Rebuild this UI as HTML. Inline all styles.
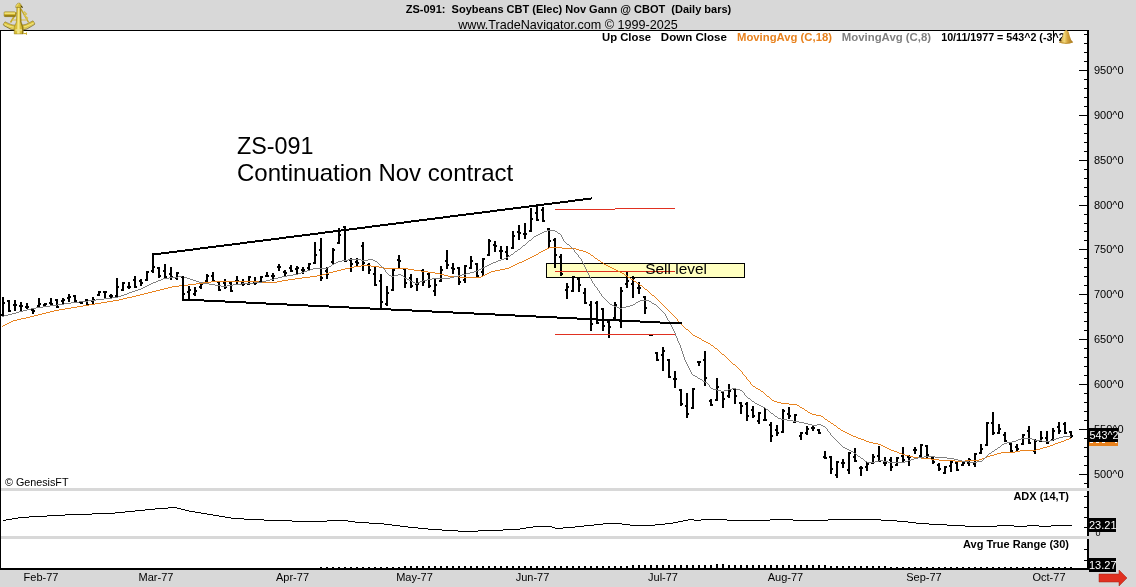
<!DOCTYPE html>
<html><head><meta charset="utf-8"><title>ZS-091</title>
<style>
html,body{margin:0;padding:0;background:#d8d8d8;}
body{width:1136px;height:587px;overflow:hidden;position:relative;font-family:"Liberation Sans",Arial,sans-serif;}
svg{position:absolute;left:0;top:0;display:block}
text{font-family:"Liberation Sans",Arial,sans-serif;}
.b{font-weight:bold}
</style></head><body>
<svg width="1136" height="587" viewBox="0 0 1136 587">
<rect x="0" y="0" width="1136" height="587" fill="#d8d8d8"/>

<text x="568.5" y="13" font-size="11" class="b" text-anchor="middle" xml:space="preserve">ZS-091:  Soybeans CBT (Elec) Nov Gann @ CBOT  (Daily bars)</text>
<text x="568" y="29" font-size="12.6" text-anchor="middle">www.TradeNavigator.com © 1999-2025</text>
<rect x="0" y="30" width="1089" height="540" fill="#000"/>
<rect x="1" y="31" width="1086" height="537" fill="#fff"/>
<rect x="546.5" y="263.5" width="198" height="14" fill="#ffffc0" stroke="#000" stroke-width="1" shape-rendering="crispEdges"/>
<g shape-rendering="crispEdges" fill="#000">
<rect x="1084" y="483" width="4" height="1"/>
<rect x="1079" y="474" width="9" height="1"/>
<rect x="1084" y="465" width="4" height="1"/>
<rect x="1084" y="456" width="4" height="1"/>
<rect x="1084" y="447" width="4" height="1"/>
<rect x="1084" y="438" width="4" height="1"/>
<rect x="1079" y="429" width="9" height="1"/>
<rect x="1084" y="420" width="4" height="1"/>
<rect x="1084" y="411" width="4" height="1"/>
<rect x="1084" y="402" width="4" height="1"/>
<rect x="1084" y="393" width="4" height="1"/>
<rect x="1079" y="384" width="9" height="1"/>
<rect x="1084" y="375" width="4" height="1"/>
<rect x="1084" y="366" width="4" height="1"/>
<rect x="1084" y="357" width="4" height="1"/>
<rect x="1084" y="348" width="4" height="1"/>
<rect x="1079" y="339" width="9" height="1"/>
<rect x="1084" y="330" width="4" height="1"/>
<rect x="1084" y="321" width="4" height="1"/>
<rect x="1084" y="312" width="4" height="1"/>
<rect x="1084" y="303" width="4" height="1"/>
<rect x="1079" y="294" width="9" height="1"/>
<rect x="1084" y="285" width="4" height="1"/>
<rect x="1084" y="276" width="4" height="1"/>
<rect x="1084" y="267" width="4" height="1"/>
<rect x="1084" y="258" width="4" height="1"/>
<rect x="1079" y="249" width="9" height="1"/>
<rect x="1084" y="240" width="4" height="1"/>
<rect x="1084" y="231" width="4" height="1"/>
<rect x="1084" y="223" width="4" height="1"/>
<rect x="1084" y="214" width="4" height="1"/>
<rect x="1079" y="205" width="9" height="1"/>
<rect x="1084" y="196" width="4" height="1"/>
<rect x="1084" y="187" width="4" height="1"/>
<rect x="1084" y="178" width="4" height="1"/>
<rect x="1084" y="169" width="4" height="1"/>
<rect x="1079" y="160" width="9" height="1"/>
<rect x="1084" y="151" width="4" height="1"/>
<rect x="1084" y="142" width="4" height="1"/>
<rect x="1084" y="133" width="4" height="1"/>
<rect x="1084" y="124" width="4" height="1"/>
<rect x="1079" y="115" width="9" height="1"/>
<rect x="1084" y="106" width="4" height="1"/>
<rect x="1084" y="97" width="4" height="1"/>
<rect x="1084" y="88" width="4" height="1"/>
<rect x="1084" y="79" width="4" height="1"/>
<rect x="1079" y="70" width="9" height="1"/>
<rect x="1084" y="61" width="4" height="1"/>
<rect x="1084" y="52" width="4" height="1"/>
<rect x="1084" y="43" width="4" height="1"/>
<rect x="1084" y="34" width="4" height="1"/>
<rect x="1084" y="496" width="4" height="1"/>
<rect x="1084" y="507" width="4" height="1"/>
<rect x="1084" y="517" width="4" height="1"/>
<rect x="1084" y="527" width="4" height="1"/>
<rect x="1084" y="549" width="4" height="1"/>
<rect x="1084" y="560" width="4" height="1"/>
<rect x="320" y="567" width="2" height="1"/>
<rect x="326" y="567" width="2" height="1"/>
<rect x="332" y="567" width="2" height="1"/>
<rect x="338" y="567" width="2" height="1"/>
<rect x="344" y="567" width="2" height="1"/>
<rect x="350" y="567" width="2" height="1"/>
<rect x="356" y="567" width="2" height="1"/>
<rect x="362" y="567" width="2" height="1"/>
<rect x="368" y="567" width="2" height="1"/>
<rect x="374" y="567" width="2" height="1"/>
<rect x="380" y="567" width="2" height="1"/>
<rect x="386" y="567" width="2" height="1"/>
<rect x="392" y="567" width="2" height="1"/>
<rect x="398" y="567" width="2" height="1"/>
<rect x="404" y="566" width="2" height="2"/>
<rect x="410" y="566" width="2" height="2"/>
<rect x="416" y="566" width="2" height="2"/>
<rect x="422" y="566" width="2" height="2"/>
<rect x="428" y="566" width="2" height="2"/>
<rect x="434" y="566" width="2" height="2"/>
<rect x="440" y="566" width="2" height="2"/>
<rect x="446" y="566" width="2" height="2"/>
<rect x="452" y="566" width="2" height="2"/>
<rect x="458" y="566" width="2" height="2"/>
<rect x="464" y="566" width="2" height="2"/>
<rect x="470" y="566" width="2" height="2"/>
<rect x="476" y="566" width="2" height="2"/>
<rect x="482" y="566" width="2" height="2"/>
<rect x="488" y="566" width="2" height="2"/>
<rect x="494" y="566" width="2" height="2"/>
<rect x="500" y="566" width="2" height="2"/>
<rect x="506" y="566" width="2" height="2"/>
<rect x="512" y="566" width="2" height="2"/>
<rect x="518" y="566" width="2" height="2"/>
<rect x="524" y="566" width="2" height="2"/>
<rect x="530" y="566" width="2" height="2"/>
<rect x="536" y="566" width="2" height="2"/>
<rect x="542" y="566" width="2" height="2"/>
<rect x="548" y="566" width="2" height="2"/>
<rect x="554" y="566" width="2" height="2"/>
<rect x="560" y="566" width="2" height="2"/>
<rect x="566" y="566" width="2" height="2"/>
<rect x="572" y="566" width="2" height="2"/>
<rect x="578" y="566" width="2" height="2"/>
<rect x="584" y="566" width="2" height="2"/>
<rect x="590" y="566" width="2" height="2"/>
<rect x="596" y="566" width="2" height="2"/>
<rect x="602" y="566" width="2" height="2"/>
<rect x="608" y="566" width="2" height="2"/>
<rect x="614" y="566" width="2" height="2"/>
<rect x="620" y="566" width="2" height="2"/>
<rect x="626" y="566" width="2" height="2"/>
<rect x="632" y="565" width="2" height="3"/>
<rect x="638" y="565" width="2" height="3"/>
<rect x="644" y="565" width="2" height="3"/>
<rect x="650" y="565" width="2" height="3"/>
<rect x="656" y="565" width="2" height="3"/>
<rect x="662" y="565" width="2" height="3"/>
<rect x="668" y="565" width="2" height="3"/>
<rect x="674" y="565" width="2" height="3"/>
<rect x="680" y="565" width="2" height="3"/>
<rect x="686" y="565" width="2" height="3"/>
<rect x="692" y="565" width="2" height="3"/>
<rect x="698" y="565" width="2" height="3"/>
<rect x="704" y="565" width="2" height="3"/>
<rect x="710" y="565" width="2" height="3"/>
<rect x="716" y="564" width="2" height="4"/>
<rect x="722" y="564" width="2" height="4"/>
<rect x="728" y="565" width="2" height="3"/>
<rect x="734" y="565" width="2" height="3"/>
<rect x="740" y="565" width="2" height="3"/>
<rect x="746" y="565" width="2" height="3"/>
<rect x="752" y="565" width="2" height="3"/>
<rect x="758" y="565" width="2" height="3"/>
<rect x="764" y="565" width="2" height="3"/>
<rect x="770" y="565" width="2" height="3"/>
<rect x="776" y="565" width="2" height="3"/>
<rect x="782" y="565" width="2" height="3"/>
<rect x="788" y="565" width="2" height="3"/>
<rect x="794" y="565" width="2" height="3"/>
<rect x="800" y="565" width="2" height="3"/>
<rect x="806" y="565" width="2" height="3"/>
<rect x="812" y="565" width="2" height="3"/>
<rect x="818" y="565" width="2" height="3"/>
<rect x="824" y="565" width="2" height="3"/>
<rect x="830" y="566" width="2" height="2"/>
<rect x="836" y="566" width="2" height="2"/>
<rect x="842" y="566" width="2" height="2"/>
<rect x="848" y="566" width="2" height="2"/>
<rect x="854" y="566" width="2" height="2"/>
<rect x="860" y="566" width="2" height="2"/>
<rect x="866" y="566" width="2" height="2"/>
<rect x="872" y="566" width="2" height="2"/>
<rect x="878" y="566" width="2" height="2"/>
<rect x="884" y="566" width="2" height="2"/>
<rect x="890" y="567" width="2" height="1"/>
<rect x="896" y="567" width="2" height="1"/>
<rect x="902" y="567" width="2" height="1"/>
<rect x="908" y="567" width="2" height="1"/>
<rect x="914" y="567" width="2" height="1"/>
<rect x="920" y="567" width="2" height="1"/>
<rect x="926" y="567" width="2" height="1"/>
<rect x="932" y="567" width="2" height="1"/>
<rect x="938" y="567" width="2" height="1"/>
<rect x="944" y="567" width="2" height="1"/>
<rect x="950" y="567" width="2" height="1"/>
<rect x="956" y="567" width="2" height="1"/>
<rect x="962" y="567" width="2" height="1"/>
<rect x="968" y="567" width="2" height="1"/>
<rect x="974" y="567" width="2" height="1"/>
<rect x="980" y="567" width="2" height="1"/>
<rect x="986" y="567" width="2" height="1"/>
<rect x="992" y="567" width="2" height="1"/>
<rect x="998" y="567" width="2" height="1"/>
<rect x="1004" y="567" width="2" height="1"/>
<rect x="1010" y="567" width="2" height="1"/>
<rect x="1016" y="567" width="2" height="1"/>
<rect x="1022" y="567" width="2" height="1"/>
<rect x="1028" y="567" width="2" height="1"/>
<rect x="1034" y="567" width="2" height="1"/>
<rect x="1040" y="567" width="2" height="1"/>
<rect x="1046" y="567" width="2" height="1"/>
<rect x="1052" y="567" width="2" height="1"/>
<rect x="1058" y="567" width="2" height="1"/>
<rect x="1064" y="567" width="2" height="1"/>
<rect x="1070" y="567" width="2" height="1"/>
<rect x="2" y="297" width="2" height="19"/>
<rect x="1" y="314" width="1" height="2"/>
<rect x="4" y="302" width="1" height="2"/>
<rect x="8" y="300" width="2" height="12"/>
<rect x="7" y="300" width="1" height="2"/>
<rect x="10" y="310" width="1" height="2"/>
<rect x="14" y="300" width="2" height="11"/>
<rect x="13" y="304" width="1" height="2"/>
<rect x="16" y="304" width="1" height="2"/>
<rect x="20" y="302" width="2" height="9"/>
<rect x="19" y="305" width="1" height="2"/>
<rect x="22" y="305" width="1" height="2"/>
<rect x="26" y="303" width="2" height="6"/>
<rect x="25" y="306" width="1" height="2"/>
<rect x="28" y="306" width="1" height="2"/>
<rect x="32" y="309" width="2" height="5"/>
<rect x="31" y="309" width="1" height="2"/>
<rect x="34" y="310" width="1" height="2"/>
<rect x="38" y="298" width="2" height="9"/>
<rect x="37" y="305" width="1" height="2"/>
<rect x="40" y="303" width="1" height="2"/>
<rect x="44" y="303" width="2" height="3"/>
<rect x="43" y="304" width="1" height="2"/>
<rect x="46" y="303" width="1" height="2"/>
<rect x="50" y="298" width="2" height="8"/>
<rect x="49" y="302" width="1" height="2"/>
<rect x="52" y="303" width="1" height="2"/>
<rect x="56" y="299" width="2" height="9"/>
<rect x="55" y="299" width="1" height="2"/>
<rect x="58" y="306" width="1" height="2"/>
<rect x="62" y="298" width="2" height="6"/>
<rect x="61" y="300" width="1" height="2"/>
<rect x="64" y="299" width="1" height="2"/>
<rect x="68" y="294" width="2" height="8"/>
<rect x="67" y="297" width="1" height="2"/>
<rect x="70" y="296" width="1" height="2"/>
<rect x="74" y="295" width="2" height="7"/>
<rect x="73" y="295" width="1" height="2"/>
<rect x="76" y="300" width="1" height="2"/>
<rect x="80" y="301" width="2" height="3"/>
<rect x="79" y="301" width="1" height="2"/>
<rect x="82" y="302" width="1" height="2"/>
<rect x="86" y="299" width="2" height="7"/>
<rect x="85" y="299" width="1" height="2"/>
<rect x="88" y="304" width="1" height="2"/>
<rect x="92" y="297" width="2" height="7"/>
<rect x="91" y="300" width="1" height="2"/>
<rect x="94" y="299" width="1" height="2"/>
<rect x="98" y="291" width="2" height="5"/>
<rect x="97" y="294" width="1" height="2"/>
<rect x="100" y="291" width="1" height="2"/>
<rect x="104" y="291" width="2" height="7"/>
<rect x="103" y="291" width="1" height="2"/>
<rect x="106" y="291" width="1" height="2"/>
<rect x="110" y="294" width="2" height="4"/>
<rect x="109" y="295" width="1" height="2"/>
<rect x="112" y="295" width="1" height="2"/>
<rect x="116" y="278" width="2" height="19"/>
<rect x="115" y="295" width="1" height="2"/>
<rect x="118" y="286" width="1" height="2"/>
<rect x="122" y="282" width="2" height="9"/>
<rect x="121" y="289" width="1" height="2"/>
<rect x="124" y="282" width="1" height="2"/>
<rect x="128" y="282" width="2" height="7"/>
<rect x="127" y="286" width="1" height="2"/>
<rect x="130" y="286" width="1" height="2"/>
<rect x="134" y="276" width="2" height="12"/>
<rect x="133" y="279" width="1" height="2"/>
<rect x="136" y="286" width="1" height="2"/>
<rect x="140" y="279" width="2" height="7"/>
<rect x="139" y="280" width="1" height="2"/>
<rect x="142" y="282" width="1" height="2"/>
<rect x="146" y="271" width="2" height="10"/>
<rect x="145" y="279" width="1" height="2"/>
<rect x="148" y="271" width="1" height="2"/>
<rect x="152" y="254" width="2" height="18"/>
<rect x="151" y="270" width="1" height="2"/>
<rect x="154" y="266" width="1" height="2"/>
<rect x="158" y="267" width="2" height="11"/>
<rect x="157" y="267" width="1" height="2"/>
<rect x="160" y="275" width="1" height="2"/>
<rect x="164" y="264" width="2" height="14"/>
<rect x="163" y="270" width="1" height="2"/>
<rect x="166" y="276" width="1" height="2"/>
<rect x="170" y="267" width="2" height="13"/>
<rect x="169" y="273" width="1" height="2"/>
<rect x="172" y="276" width="1" height="2"/>
<rect x="176" y="272" width="2" height="8"/>
<rect x="175" y="277" width="1" height="2"/>
<rect x="178" y="272" width="1" height="2"/>
<rect x="182" y="276" width="2" height="24"/>
<rect x="181" y="276" width="1" height="2"/>
<rect x="184" y="293" width="1" height="2"/>
<rect x="188" y="286" width="2" height="13"/>
<rect x="187" y="291" width="1" height="2"/>
<rect x="190" y="289" width="1" height="2"/>
<rect x="194" y="287" width="2" height="9"/>
<rect x="193" y="293" width="1" height="2"/>
<rect x="196" y="290" width="1" height="2"/>
<rect x="200" y="282" width="2" height="7"/>
<rect x="199" y="286" width="1" height="2"/>
<rect x="202" y="283" width="1" height="2"/>
<rect x="206" y="274" width="2" height="8"/>
<rect x="205" y="280" width="1" height="2"/>
<rect x="208" y="275" width="1" height="2"/>
<rect x="212" y="272" width="2" height="10"/>
<rect x="211" y="275" width="1" height="2"/>
<rect x="214" y="280" width="1" height="2"/>
<rect x="218" y="281" width="2" height="10"/>
<rect x="217" y="281" width="1" height="2"/>
<rect x="220" y="289" width="1" height="2"/>
<rect x="224" y="279" width="2" height="10"/>
<rect x="223" y="282" width="1" height="2"/>
<rect x="226" y="286" width="1" height="2"/>
<rect x="230" y="282" width="2" height="10"/>
<rect x="229" y="282" width="1" height="2"/>
<rect x="232" y="290" width="1" height="2"/>
<rect x="236" y="276" width="2" height="9"/>
<rect x="235" y="280" width="1" height="2"/>
<rect x="238" y="280" width="1" height="2"/>
<rect x="242" y="279" width="2" height="7"/>
<rect x="241" y="282" width="1" height="2"/>
<rect x="244" y="283" width="1" height="2"/>
<rect x="248" y="276" width="2" height="9"/>
<rect x="247" y="283" width="1" height="2"/>
<rect x="250" y="276" width="1" height="2"/>
<rect x="254" y="277" width="2" height="8"/>
<rect x="253" y="281" width="1" height="2"/>
<rect x="256" y="282" width="1" height="2"/>
<rect x="260" y="276" width="2" height="7"/>
<rect x="259" y="281" width="1" height="2"/>
<rect x="262" y="276" width="1" height="2"/>
<rect x="266" y="272" width="2" height="5"/>
<rect x="265" y="275" width="1" height="2"/>
<rect x="268" y="275" width="1" height="2"/>
<rect x="272" y="273" width="2" height="8"/>
<rect x="271" y="275" width="1" height="2"/>
<rect x="274" y="275" width="1" height="2"/>
<rect x="278" y="264" width="2" height="7"/>
<rect x="277" y="266" width="1" height="2"/>
<rect x="280" y="266" width="1" height="2"/>
<rect x="284" y="270" width="2" height="6"/>
<rect x="283" y="271" width="1" height="2"/>
<rect x="286" y="272" width="1" height="2"/>
<rect x="290" y="265" width="2" height="7"/>
<rect x="289" y="267" width="1" height="2"/>
<rect x="292" y="270" width="1" height="2"/>
<rect x="296" y="266" width="2" height="8"/>
<rect x="295" y="268" width="1" height="2"/>
<rect x="298" y="267" width="1" height="2"/>
<rect x="302" y="267" width="2" height="7"/>
<rect x="301" y="269" width="1" height="2"/>
<rect x="304" y="269" width="1" height="2"/>
<rect x="308" y="263" width="2" height="8"/>
<rect x="307" y="267" width="1" height="2"/>
<rect x="310" y="263" width="1" height="2"/>
<rect x="314" y="242" width="2" height="22"/>
<rect x="313" y="262" width="1" height="2"/>
<rect x="316" y="254" width="1" height="2"/>
<rect x="320" y="238" width="2" height="43"/>
<rect x="319" y="249" width="1" height="2"/>
<rect x="322" y="277" width="1" height="2"/>
<rect x="326" y="267" width="2" height="12"/>
<rect x="325" y="270" width="1" height="2"/>
<rect x="328" y="273" width="1" height="2"/>
<rect x="332" y="248" width="2" height="16"/>
<rect x="331" y="261" width="1" height="2"/>
<rect x="334" y="249" width="1" height="2"/>
<rect x="338" y="228" width="2" height="16"/>
<rect x="337" y="242" width="1" height="2"/>
<rect x="340" y="234" width="1" height="2"/>
<rect x="344" y="226" width="2" height="36"/>
<rect x="343" y="226" width="1" height="2"/>
<rect x="346" y="260" width="1" height="2"/>
<rect x="350" y="258" width="2" height="14"/>
<rect x="349" y="259" width="1" height="2"/>
<rect x="352" y="263" width="1" height="2"/>
<rect x="356" y="258" width="2" height="9"/>
<rect x="355" y="261" width="1" height="2"/>
<rect x="358" y="262" width="1" height="2"/>
<rect x="362" y="242" width="2" height="29"/>
<rect x="361" y="245" width="1" height="2"/>
<rect x="364" y="262" width="1" height="2"/>
<rect x="368" y="263" width="2" height="11"/>
<rect x="367" y="264" width="1" height="2"/>
<rect x="370" y="269" width="1" height="2"/>
<rect x="374" y="267" width="2" height="19"/>
<rect x="373" y="273" width="1" height="2"/>
<rect x="376" y="284" width="1" height="2"/>
<rect x="380" y="274" width="2" height="34"/>
<rect x="379" y="280" width="1" height="2"/>
<rect x="382" y="301" width="1" height="2"/>
<rect x="386" y="286" width="2" height="20"/>
<rect x="385" y="303" width="1" height="2"/>
<rect x="388" y="292" width="1" height="2"/>
<rect x="392" y="269" width="2" height="22"/>
<rect x="391" y="289" width="1" height="2"/>
<rect x="394" y="269" width="1" height="2"/>
<rect x="398" y="255" width="2" height="13"/>
<rect x="397" y="259" width="1" height="2"/>
<rect x="400" y="260" width="1" height="2"/>
<rect x="404" y="268" width="2" height="20"/>
<rect x="403" y="268" width="1" height="2"/>
<rect x="406" y="282" width="1" height="2"/>
<rect x="410" y="274" width="2" height="14"/>
<rect x="409" y="277" width="1" height="2"/>
<rect x="412" y="285" width="1" height="2"/>
<rect x="416" y="278" width="2" height="13"/>
<rect x="415" y="283" width="1" height="2"/>
<rect x="418" y="283" width="1" height="2"/>
<rect x="422" y="269" width="2" height="17"/>
<rect x="421" y="270" width="1" height="2"/>
<rect x="424" y="281" width="1" height="2"/>
<rect x="428" y="272" width="2" height="16"/>
<rect x="427" y="273" width="1" height="2"/>
<rect x="430" y="285" width="1" height="2"/>
<rect x="434" y="278" width="2" height="18"/>
<rect x="433" y="290" width="1" height="2"/>
<rect x="436" y="284" width="1" height="2"/>
<rect x="440" y="266" width="2" height="16"/>
<rect x="439" y="280" width="1" height="2"/>
<rect x="442" y="269" width="1" height="2"/>
<rect x="446" y="250" width="2" height="19"/>
<rect x="445" y="260" width="1" height="2"/>
<rect x="448" y="264" width="1" height="2"/>
<rect x="452" y="263" width="2" height="11"/>
<rect x="451" y="267" width="1" height="2"/>
<rect x="454" y="268" width="1" height="2"/>
<rect x="458" y="267" width="2" height="18"/>
<rect x="457" y="267" width="1" height="2"/>
<rect x="460" y="281" width="1" height="2"/>
<rect x="464" y="265" width="2" height="18"/>
<rect x="463" y="279" width="1" height="2"/>
<rect x="466" y="265" width="1" height="2"/>
<rect x="470" y="256" width="2" height="13"/>
<rect x="469" y="267" width="1" height="2"/>
<rect x="472" y="260" width="1" height="2"/>
<rect x="476" y="263" width="2" height="14"/>
<rect x="475" y="263" width="1" height="2"/>
<rect x="478" y="275" width="1" height="2"/>
<rect x="482" y="258" width="2" height="18"/>
<rect x="481" y="271" width="1" height="2"/>
<rect x="484" y="258" width="1" height="2"/>
<rect x="488" y="239" width="2" height="17"/>
<rect x="487" y="254" width="1" height="2"/>
<rect x="490" y="240" width="1" height="2"/>
<rect x="494" y="241" width="2" height="11"/>
<rect x="493" y="244" width="1" height="2"/>
<rect x="496" y="245" width="1" height="2"/>
<rect x="500" y="246" width="2" height="13"/>
<rect x="499" y="250" width="1" height="2"/>
<rect x="502" y="250" width="1" height="2"/>
<rect x="506" y="246" width="2" height="14"/>
<rect x="505" y="251" width="1" height="2"/>
<rect x="508" y="255" width="1" height="2"/>
<rect x="512" y="231" width="2" height="18"/>
<rect x="511" y="247" width="1" height="2"/>
<rect x="514" y="235" width="1" height="2"/>
<rect x="518" y="225" width="2" height="15"/>
<rect x="517" y="231" width="1" height="2"/>
<rect x="520" y="232" width="1" height="2"/>
<rect x="524" y="223" width="2" height="16"/>
<rect x="523" y="233" width="1" height="2"/>
<rect x="526" y="233" width="1" height="2"/>
<rect x="530" y="208" width="2" height="24"/>
<rect x="529" y="230" width="1" height="2"/>
<rect x="532" y="218" width="1" height="2"/>
<rect x="536" y="206" width="2" height="15"/>
<rect x="535" y="212" width="1" height="2"/>
<rect x="538" y="219" width="1" height="2"/>
<rect x="542" y="207" width="2" height="15"/>
<rect x="541" y="209" width="1" height="2"/>
<rect x="544" y="220" width="1" height="2"/>
<rect x="548" y="228" width="2" height="20"/>
<rect x="547" y="228" width="1" height="2"/>
<rect x="550" y="240" width="1" height="2"/>
<rect x="554" y="238" width="2" height="30"/>
<rect x="553" y="239" width="1" height="2"/>
<rect x="556" y="254" width="1" height="2"/>
<rect x="560" y="254" width="2" height="22"/>
<rect x="559" y="256" width="1" height="2"/>
<rect x="562" y="273" width="1" height="2"/>
<rect x="566" y="283" width="2" height="16"/>
<rect x="565" y="289" width="1" height="2"/>
<rect x="568" y="286" width="1" height="2"/>
<rect x="572" y="276" width="2" height="16"/>
<rect x="571" y="290" width="1" height="2"/>
<rect x="574" y="276" width="1" height="2"/>
<rect x="578" y="278" width="2" height="14"/>
<rect x="577" y="278" width="1" height="2"/>
<rect x="580" y="284" width="1" height="2"/>
<rect x="584" y="288" width="2" height="16"/>
<rect x="583" y="292" width="1" height="2"/>
<rect x="586" y="302" width="1" height="2"/>
<rect x="590" y="301" width="2" height="30"/>
<rect x="589" y="304" width="1" height="2"/>
<rect x="592" y="323" width="1" height="2"/>
<rect x="596" y="301" width="2" height="23"/>
<rect x="595" y="302" width="1" height="2"/>
<rect x="598" y="322" width="1" height="2"/>
<rect x="602" y="308" width="2" height="23"/>
<rect x="601" y="308" width="1" height="2"/>
<rect x="604" y="325" width="1" height="2"/>
<rect x="608" y="321" width="2" height="17"/>
<rect x="607" y="321" width="1" height="2"/>
<rect x="610" y="326" width="1" height="2"/>
<rect x="614" y="302" width="2" height="17"/>
<rect x="613" y="317" width="1" height="2"/>
<rect x="616" y="304" width="1" height="2"/>
<rect x="620" y="287" width="2" height="41"/>
<rect x="619" y="319" width="1" height="2"/>
<rect x="622" y="290" width="1" height="2"/>
<rect x="626" y="272" width="2" height="16"/>
<rect x="625" y="283" width="1" height="2"/>
<rect x="628" y="280" width="1" height="2"/>
<rect x="632" y="276" width="2" height="22"/>
<rect x="631" y="283" width="1" height="2"/>
<rect x="634" y="277" width="1" height="2"/>
<rect x="638" y="282" width="2" height="12"/>
<rect x="637" y="287" width="1" height="2"/>
<rect x="640" y="287" width="1" height="2"/>
<rect x="644" y="296" width="2" height="18"/>
<rect x="643" y="296" width="1" height="2"/>
<rect x="646" y="307" width="1" height="2"/>
<rect x="656" y="352" width="2" height="9"/>
<rect x="655" y="352" width="1" height="2"/>
<rect x="658" y="359" width="1" height="2"/>
<rect x="662" y="347" width="2" height="24"/>
<rect x="661" y="354" width="1" height="2"/>
<rect x="664" y="350" width="1" height="2"/>
<rect x="668" y="359" width="2" height="19"/>
<rect x="667" y="359" width="1" height="2"/>
<rect x="670" y="376" width="1" height="2"/>
<rect x="674" y="371" width="2" height="17"/>
<rect x="673" y="378" width="1" height="2"/>
<rect x="676" y="378" width="1" height="2"/>
<rect x="680" y="389" width="2" height="17"/>
<rect x="679" y="389" width="1" height="2"/>
<rect x="682" y="403" width="1" height="2"/>
<rect x="686" y="393" width="2" height="25"/>
<rect x="685" y="405" width="1" height="2"/>
<rect x="688" y="413" width="1" height="2"/>
<rect x="692" y="388" width="2" height="21"/>
<rect x="691" y="407" width="1" height="2"/>
<rect x="694" y="388" width="1" height="2"/>
<rect x="698" y="361" width="2" height="5"/>
<rect x="697" y="361" width="1" height="2"/>
<rect x="700" y="361" width="1" height="2"/>
<rect x="704" y="351" width="2" height="35"/>
<rect x="703" y="359" width="1" height="2"/>
<rect x="706" y="377" width="1" height="2"/>
<rect x="710" y="399" width="2" height="7"/>
<rect x="709" y="400" width="1" height="2"/>
<rect x="712" y="404" width="1" height="2"/>
<rect x="716" y="378" width="2" height="23"/>
<rect x="715" y="399" width="1" height="2"/>
<rect x="718" y="386" width="1" height="2"/>
<rect x="722" y="391" width="2" height="17"/>
<rect x="721" y="391" width="1" height="2"/>
<rect x="724" y="398" width="1" height="2"/>
<rect x="728" y="384" width="2" height="14"/>
<rect x="727" y="395" width="1" height="2"/>
<rect x="730" y="390" width="1" height="2"/>
<rect x="734" y="388" width="2" height="16"/>
<rect x="733" y="388" width="1" height="2"/>
<rect x="736" y="395" width="1" height="2"/>
<rect x="740" y="402" width="2" height="12"/>
<rect x="739" y="402" width="1" height="2"/>
<rect x="742" y="405" width="1" height="2"/>
<rect x="746" y="402" width="2" height="19"/>
<rect x="745" y="403" width="1" height="2"/>
<rect x="748" y="415" width="1" height="2"/>
<rect x="752" y="406" width="2" height="12"/>
<rect x="751" y="409" width="1" height="2"/>
<rect x="754" y="415" width="1" height="2"/>
<rect x="758" y="412" width="2" height="12"/>
<rect x="757" y="420" width="1" height="2"/>
<rect x="760" y="412" width="1" height="2"/>
<rect x="764" y="408" width="2" height="13"/>
<rect x="763" y="419" width="1" height="2"/>
<rect x="766" y="419" width="1" height="2"/>
<rect x="770" y="422" width="2" height="20"/>
<rect x="769" y="424" width="1" height="2"/>
<rect x="772" y="435" width="1" height="2"/>
<rect x="776" y="425" width="2" height="11"/>
<rect x="775" y="429" width="1" height="2"/>
<rect x="778" y="432" width="1" height="2"/>
<rect x="782" y="409" width="2" height="24"/>
<rect x="781" y="431" width="1" height="2"/>
<rect x="784" y="410" width="1" height="2"/>
<rect x="788" y="407" width="2" height="12"/>
<rect x="787" y="413" width="1" height="2"/>
<rect x="790" y="415" width="1" height="2"/>
<rect x="794" y="414" width="2" height="9"/>
<rect x="793" y="421" width="1" height="2"/>
<rect x="796" y="414" width="1" height="2"/>
<rect x="800" y="432" width="2" height="8"/>
<rect x="799" y="435" width="1" height="2"/>
<rect x="802" y="432" width="1" height="2"/>
<rect x="806" y="426" width="2" height="9"/>
<rect x="805" y="432" width="1" height="2"/>
<rect x="808" y="428" width="1" height="2"/>
<rect x="812" y="426" width="2" height="5"/>
<rect x="811" y="427" width="1" height="2"/>
<rect x="814" y="427" width="1" height="2"/>
<rect x="818" y="429" width="2" height="5"/>
<rect x="817" y="429" width="1" height="2"/>
<rect x="820" y="432" width="1" height="2"/>
<rect x="824" y="451" width="2" height="8"/>
<rect x="823" y="456" width="1" height="2"/>
<rect x="826" y="457" width="1" height="2"/>
<rect x="830" y="456" width="2" height="18"/>
<rect x="829" y="456" width="1" height="2"/>
<rect x="832" y="468" width="1" height="2"/>
<rect x="836" y="461" width="2" height="17"/>
<rect x="835" y="474" width="1" height="2"/>
<rect x="838" y="461" width="1" height="2"/>
<rect x="842" y="459" width="2" height="9"/>
<rect x="841" y="462" width="1" height="2"/>
<rect x="844" y="462" width="1" height="2"/>
<rect x="848" y="452" width="2" height="22"/>
<rect x="847" y="469" width="1" height="2"/>
<rect x="850" y="452" width="1" height="2"/>
<rect x="854" y="448" width="2" height="14"/>
<rect x="853" y="456" width="1" height="2"/>
<rect x="856" y="460" width="1" height="2"/>
<rect x="860" y="466" width="2" height="10"/>
<rect x="859" y="467" width="1" height="2"/>
<rect x="862" y="467" width="1" height="2"/>
<rect x="866" y="462" width="2" height="9"/>
<rect x="865" y="466" width="1" height="2"/>
<rect x="868" y="463" width="1" height="2"/>
<rect x="872" y="454" width="2" height="10"/>
<rect x="871" y="462" width="1" height="2"/>
<rect x="874" y="456" width="1" height="2"/>
<rect x="878" y="446" width="2" height="16"/>
<rect x="877" y="455" width="1" height="2"/>
<rect x="880" y="460" width="1" height="2"/>
<rect x="884" y="457" width="2" height="9"/>
<rect x="883" y="462" width="1" height="2"/>
<rect x="886" y="462" width="1" height="2"/>
<rect x="890" y="457" width="2" height="14"/>
<rect x="889" y="459" width="1" height="2"/>
<rect x="892" y="466" width="1" height="2"/>
<rect x="896" y="457" width="2" height="9"/>
<rect x="895" y="464" width="1" height="2"/>
<rect x="898" y="457" width="1" height="2"/>
<rect x="902" y="447" width="2" height="15"/>
<rect x="901" y="455" width="1" height="2"/>
<rect x="904" y="459" width="1" height="2"/>
<rect x="908" y="455" width="2" height="11"/>
<rect x="907" y="456" width="1" height="2"/>
<rect x="910" y="456" width="1" height="2"/>
<rect x="914" y="447" width="2" height="7"/>
<rect x="913" y="449" width="1" height="2"/>
<rect x="916" y="449" width="1" height="2"/>
<rect x="920" y="444" width="2" height="13"/>
<rect x="919" y="455" width="1" height="2"/>
<rect x="922" y="444" width="1" height="2"/>
<rect x="926" y="445" width="2" height="13"/>
<rect x="925" y="445" width="1" height="2"/>
<rect x="928" y="454" width="1" height="2"/>
<rect x="932" y="456" width="2" height="8"/>
<rect x="931" y="457" width="1" height="2"/>
<rect x="934" y="461" width="1" height="2"/>
<rect x="938" y="463" width="2" height="8"/>
<rect x="937" y="464" width="1" height="2"/>
<rect x="940" y="468" width="1" height="2"/>
<rect x="944" y="466" width="2" height="8"/>
<rect x="943" y="472" width="1" height="2"/>
<rect x="946" y="466" width="1" height="2"/>
<rect x="950" y="461" width="2" height="11"/>
<rect x="949" y="465" width="1" height="2"/>
<rect x="952" y="461" width="1" height="2"/>
<rect x="956" y="462" width="2" height="9"/>
<rect x="955" y="462" width="1" height="2"/>
<rect x="958" y="469" width="1" height="2"/>
<rect x="962" y="462" width="2" height="4"/>
<rect x="961" y="464" width="1" height="2"/>
<rect x="964" y="462" width="1" height="2"/>
<rect x="968" y="458" width="2" height="8"/>
<rect x="967" y="462" width="1" height="2"/>
<rect x="970" y="459" width="1" height="2"/>
<rect x="974" y="453" width="2" height="14"/>
<rect x="973" y="463" width="1" height="2"/>
<rect x="976" y="453" width="1" height="2"/>
<rect x="980" y="444" width="2" height="10"/>
<rect x="979" y="452" width="1" height="2"/>
<rect x="982" y="448" width="1" height="2"/>
<rect x="986" y="422" width="2" height="24"/>
<rect x="985" y="444" width="1" height="2"/>
<rect x="988" y="422" width="1" height="2"/>
<rect x="992" y="412" width="2" height="23"/>
<rect x="991" y="422" width="1" height="2"/>
<rect x="994" y="432" width="1" height="2"/>
<rect x="998" y="424" width="2" height="10"/>
<rect x="997" y="432" width="1" height="2"/>
<rect x="1000" y="428" width="1" height="2"/>
<rect x="1004" y="432" width="2" height="10"/>
<rect x="1003" y="434" width="1" height="2"/>
<rect x="1006" y="440" width="1" height="2"/>
<rect x="1010" y="443" width="2" height="9"/>
<rect x="1009" y="443" width="1" height="2"/>
<rect x="1012" y="450" width="1" height="2"/>
<rect x="1016" y="444" width="2" height="7"/>
<rect x="1015" y="446" width="1" height="2"/>
<rect x="1018" y="448" width="1" height="2"/>
<rect x="1022" y="434" width="2" height="11"/>
<rect x="1021" y="443" width="1" height="2"/>
<rect x="1024" y="434" width="1" height="2"/>
<rect x="1028" y="426" width="2" height="18"/>
<rect x="1027" y="430" width="1" height="2"/>
<rect x="1030" y="442" width="1" height="2"/>
<rect x="1034" y="439" width="2" height="15"/>
<rect x="1033" y="450" width="1" height="2"/>
<rect x="1036" y="440" width="1" height="2"/>
<rect x="1040" y="431" width="2" height="11"/>
<rect x="1039" y="440" width="1" height="2"/>
<rect x="1042" y="437" width="1" height="2"/>
<rect x="1046" y="431" width="2" height="13"/>
<rect x="1045" y="437" width="1" height="2"/>
<rect x="1048" y="442" width="1" height="2"/>
<rect x="1052" y="428" width="2" height="13"/>
<rect x="1051" y="439" width="1" height="2"/>
<rect x="1054" y="430" width="1" height="2"/>
<rect x="1058" y="422" width="2" height="12"/>
<rect x="1057" y="426" width="1" height="2"/>
<rect x="1060" y="430" width="1" height="2"/>
<rect x="1064" y="422" width="2" height="12"/>
<rect x="1063" y="423" width="1" height="2"/>
<rect x="1066" y="432" width="1" height="2"/>
<rect x="1070" y="431" width="2" height="7"/>
<rect x="1069" y="431" width="1" height="2"/>
<rect x="1072" y="435" width="1" height="2"/>
<rect x="649" y="334" width="4" height="2"/>
</g>
<rect x="1" y="488" width="1088" height="3" fill="#d8d8d8"/>
<rect x="1" y="536" width="1088" height="3" fill="#d8d8d8"/>
<g shape-rendering="crispEdges" stroke="#e03020" stroke-width="1" fill="none"><path d="M555 209.5H615M615 208.5H675M555 271.5H675M555 334.5H675"/></g>
<path d="M549 247.5h13M547 248.5h2M562 248.5h14M545 249.5h2M576 249.5h3M543 250.5h2M579 250.5h4M541 251.5h2M583 251.5h3M539 252.5h2M586 252.5h2M588 253.5h2M536 254.5h2M534 255.5h2M591 255.5h2M532 256.5h2M530 257.5h2M528 258.5h2M595 258.5h2M526 259.5h2M524 260.5h2M598 260.5h2M522 261.5h2M519 262.5h3M601 262.5h2M517 263.5h2M515 264.5h2M604 264.5h2M361 265.5h10M513 265.5h2M606 265.5h2M354 266.5h7M371 266.5h8M511 266.5h2M608 266.5h2M350 267.5h4M379 267.5h5M509 267.5h2M610 267.5h2M345 268.5h5M384 268.5h24M505 268.5h4M612 268.5h2M341 269.5h4M408 269.5h6M500 269.5h5M614 269.5h2M337 270.5h4M414 270.5h7M495 270.5h5M616 270.5h2M333 271.5h4M421 271.5h7M491 271.5h4M618 271.5h2M329 272.5h4M428 272.5h7M489 272.5h2M620 272.5h2M326 273.5h3M435 273.5h5M487 273.5h2M622 273.5h2M322 274.5h4M440 274.5h4M485 274.5h2M317 275.5h5M444 275.5h4M483 275.5h2M625 275.5h2M310 276.5h7M448 276.5h11M481 276.5h2M302 277.5h8M459 277.5h22M628 277.5h2M295 278.5h7M288 279.5h7M631 279.5h2M282 280.5h6M211 281.5h48M277 281.5h5M634 281.5h2M203 282.5h8M259 282.5h18M196 283.5h7M637 283.5h2M188 284.5h8M179 285.5h9M640 285.5h2M172 286.5h7M168 287.5h4M164 288.5h4M160 289.5h4M645 289.5h2M156 290.5h4M152 291.5h4M148 292.5h4M144 293.5h4M140 294.5h4M136 295.5h4M652 295.5h2M132 296.5h4M127 297.5h5M123 298.5h4M119 299.5h4M113 300.5h6M107 301.5h6M101 302.5h6M95 303.5h6M89 304.5h6M83 305.5h6M77 306.5h6M71 307.5h6M65 308.5h6M59 309.5h6M54 310.5h5M50 311.5h4M46 312.5h4M42 313.5h4M38 314.5h4M34 315.5h4M30 316.5h4M26 317.5h4M21 318.5h5M17 319.5h4M13 320.5h4M11 321.5h2M9 322.5h2M7 323.5h2M5 324.5h2M3 325.5h2M686 329.5h2M693 335.5h2M695 336.5h2M697 337.5h2M699 338.5h2M702 340.5h2M704 341.5h2M706 342.5h2M708 343.5h2M711 345.5h2M715 348.5h2M722 354.5h2M733 364.5h2M753 386.5h2M756 388.5h2M758 389.5h2M761 391.5h2M767 396.5h2M772 400.5h2M774 401.5h3M777 402.5h4M781 403.5h8M789 404.5h8M797 405.5h2M800 407.5h2M802 408.5h2M805 410.5h2M808 412.5h2M810 413.5h2M812 414.5h4M816 415.5h5M821 416.5h2M825 419.5h2M828 421.5h2M831 423.5h2M834 425.5h2M838 428.5h2M841 430.5h2M843 431.5h2M845 432.5h2M847 433.5h2M849 434.5h2M851 435.5h2M853 436.5h3M856 437.5h2M858 438.5h3M1069 438.5h2M861 439.5h3M1066 439.5h3M864 440.5h2M1064 440.5h2M866 441.5h3M1061 441.5h3M869 442.5h4M1058 442.5h3M873 443.5h5M1055 443.5h3M878 444.5h3M1053 444.5h2M881 445.5h2M1050 445.5h3M883 446.5h2M1047 446.5h3M885 447.5h2M1043 447.5h4M887 448.5h2M1040 448.5h3M889 449.5h2M1036 449.5h4M891 450.5h3M1020 450.5h16M894 451.5h3M1015 451.5h5M897 452.5h2M1001 452.5h14M899 453.5h3M997 453.5h4M902 454.5h3M994 454.5h3M905 455.5h4M990 455.5h4M909 456.5h4M987 456.5h3M913 457.5h8M985 457.5h2M921 458.5h10M982 458.5h3M931 459.5h8M979 459.5h3M939 460.5h16M965 460.5h14M955 461.5h10M2.5 326v1M538.5 253v1M590.5 254v1M593.5 256v1M594.5 257v1M597.5 259v1M600.5 261v1M603.5 263v1M624.5 274v1M627.5 276v1M630.5 278v1M633.5 280v1M636.5 282v1M639.5 284v1M642.5 286v1M643.5 287v1M644.5 288v1M647.5 290v1M648.5 291v1M649.5 292v1M650.5 293v1M651.5 294v1M654.5 296v1M655.5 297v1M656.5 298v1M657.5 299v1M658.5 300v1M659.5 301v1M660.5 302v1M661.5 303v1M662.5 304v1M663.5 305v1M664.5 306v1M665.5 307v1M666.5 308v1M667.5 309v1M668.5 310v1M669.5 311v1M670.5 312v1M671.5 313v1M672.5 314v1M673.5 315v1M674.5 316v1M675.5 317v1M676.5 318v1M677.5 319v2M678.5 321v1M679.5 322v1M680.5 323v1M681.5 324v1M682.5 325v1M683.5 326v1M684.5 327v1M685.5 328v1M688.5 330v1M689.5 331v1M690.5 332v1M691.5 333v1M692.5 334v1M701.5 339v1M710.5 344v1M713.5 346v1M714.5 347v1M717.5 349v1M718.5 350v1M719.5 351v1M720.5 352v1M721.5 353v1M724.5 355v1M725.5 356v1M726.5 357v1M727.5 358v1M728.5 359v1M729.5 360v1M730.5 361v1M731.5 362v1M732.5 363v1M735.5 365v1M736.5 366v1M737.5 367v1M738.5 368v1M739.5 369v1M740.5 370v1M741.5 371v1M742.5 372v2M743.5 374v1M744.5 375v1M745.5 376v1M746.5 377v2M747.5 379v1M748.5 380v1M749.5 381v1M750.5 382v2M751.5 384v1M752.5 385v1M755.5 387v1M760.5 390v1M763.5 392v1M764.5 393v1M765.5 394v1M766.5 395v1M769.5 397v1M770.5 398v1M771.5 399v1M799.5 406v1M804.5 409v1M807.5 411v1M823.5 417v1M824.5 418v1M827.5 420v1M830.5 422v1M833.5 424v1M836.5 426v1M837.5 427v1M840.5 429v1" fill="none" stroke="#e8821e" stroke-width="1" shape-rendering="crispEdges"/>
<path d="M547 230.5h8M544 231.5h3M555 231.5h2M542 232.5h2M540 233.5h2M558 233.5h2M538 234.5h2M536 235.5h2M534 236.5h2M529 240.5h2M567 244.5h2M523 245.5h2M518 249.5h2M515 251.5h2M511 254.5h2M508 256.5h2M506 257.5h2M504 258.5h2M348 259.5h13M368 259.5h5M501 259.5h3M342 260.5h6M361 260.5h7M373 260.5h2M498 260.5h3M338 261.5h4M375 261.5h2M496 261.5h2M336 262.5h2M493 262.5h3M334 263.5h2M491 263.5h2M332 264.5h2M489 264.5h2M487 265.5h2M329 266.5h2M485 266.5h2M327 267.5h2M483 267.5h2M313 268.5h14M481 268.5h2M310 269.5h3M479 269.5h2M307 270.5h3M477 270.5h2M304 271.5h3M474 271.5h3M301 272.5h3M470 272.5h4M298 273.5h3M466 273.5h4M293 274.5h5M398 274.5h3M462 274.5h4M287 275.5h6M389 275.5h2M394 275.5h4M401 275.5h2M458 275.5h4M178 276.5h6M282 276.5h5M391 276.5h3M454 276.5h4M169 277.5h9M184 277.5h3M278 277.5h4M450 277.5h4M163 278.5h6M187 278.5h3M274 278.5h4M405 278.5h2M432 278.5h18M161 279.5h2M190 279.5h3M270 279.5h4M407 279.5h2M427 279.5h5M158 280.5h3M193 280.5h3M266 280.5h4M409 280.5h2M423 280.5h4M156 281.5h2M196 281.5h3M262 281.5h4M411 281.5h2M420 281.5h3M153 282.5h3M199 282.5h4M254 282.5h8M413 282.5h2M418 282.5h2M151 283.5h2M203 283.5h6M242 283.5h12M415 283.5h3M149 284.5h2M209 284.5h6M233 284.5h9M147 285.5h2M215 285.5h6M227 285.5h6M145 286.5h2M221 286.5h6M143 287.5h2M141 288.5h2M138 289.5h3M135 290.5h3M132 291.5h3M129 292.5h3M127 293.5h2M124 294.5h3M121 295.5h3M118 296.5h3M112 297.5h6M104 298.5h8M96 299.5h8M88 300.5h8M640 300.5h9M79 301.5h9M638 301.5h2M649 301.5h2M71 302.5h8M636 302.5h2M64 303.5h7M652 303.5h2M57 304.5h7M610 304.5h2M633 304.5h2M654 304.5h2M50 305.5h7M612 305.5h2M630 305.5h3M43 306.5h7M614 306.5h3M626 306.5h4M36 307.5h7M617 307.5h2M622 307.5h4M31 308.5h5M619 308.5h3M27 309.5h4M23 310.5h4M19 311.5h4M16 312.5h3M12 313.5h4M8 314.5h4M4 315.5h4M2 316.5h2M693 375.5h2M695 376.5h2M698 378.5h2M700 379.5h2M703 381.5h2M705 382.5h2M711 388.5h2M732 388.5h4M713 389.5h4M728 389.5h4M736 389.5h4M717 390.5h4M724 390.5h4M740 390.5h2M721 391.5h3M748 398.5h2M752 401.5h2M755 403.5h2M757 404.5h2M759 405.5h2M761 406.5h2M763 407.5h2M766 409.5h2M771 413.5h2M775 416.5h2M778 418.5h3M781 419.5h6M787 420.5h6M793 421.5h6M799 422.5h5M804 423.5h4M808 424.5h4M817 424.5h4M812 425.5h5M821 425.5h2M823 426.5h2M1063 436.5h8M1059 437.5h4M1021 438.5h11M1056 438.5h3M1018 439.5h3M1032 439.5h3M1053 439.5h3M1016 440.5h2M1035 440.5h7M1050 440.5h3M1012 441.5h4M1042 441.5h8M1007 442.5h5M1004 443.5h3M1002 444.5h2M843 447.5h2M998 447.5h2M845 448.5h2M847 449.5h2M995 449.5h2M849 450.5h2M851 451.5h2M992 451.5h2M854 453.5h2M989 453.5h2M858 456.5h2M924 456.5h11M918 457.5h6M935 457.5h12M861 458.5h2M914 458.5h4M947 458.5h7M911 459.5h3M954 459.5h4M879 460.5h4M908 460.5h3M958 460.5h4M865 461.5h2M875 461.5h4M883 461.5h5M905 461.5h3M962 461.5h7M977 461.5h5M867 462.5h8M888 462.5h17M969 462.5h8M331.5 265v1M377.5 262v1M378.5 263v1M379.5 264v1M380.5 265v1M381.5 266v1M382.5 267v1M383.5 268v1M384.5 269v1M385.5 270v2M386.5 272v1M387.5 273v1M388.5 274v1M403.5 276v1M404.5 277v1M510.5 255v1M513.5 253v1M514.5 252v1M517.5 250v1M520.5 248v1M521.5 247v1M522.5 246v1M525.5 244v1M526.5 243v1M527.5 242v1M528.5 241v1M531.5 239v1M532.5 238v1M533.5 237v1M557.5 232v1M560.5 234v1M561.5 235v2M562.5 237v2M563.5 239v2M564.5 241v1M565.5 242v1M566.5 243v1M569.5 245v1M570.5 246v1M571.5 247v1M572.5 248v1M573.5 249v1M574.5 250v2M575.5 252v1M576.5 253v1M577.5 254v1M578.5 255v2M579.5 257v1M580.5 258v1M581.5 259v2M582.5 261v2M583.5 263v2M584.5 265v2M585.5 267v2M586.5 269v2M587.5 271v2M588.5 273v2M589.5 275v2M590.5 277v2M591.5 279v2M592.5 281v2M593.5 283v1M594.5 284v2M595.5 286v1M596.5 287v1M597.5 288v2M598.5 290v1M599.5 291v2M600.5 293v1M601.5 294v2M602.5 296v1M603.5 297v1M604.5 298v1M605.5 299v1M606.5 300v1M607.5 301v1M608.5 302v1M609.5 303v1M635.5 303v1M651.5 302v1M656.5 305v1M657.5 306v1M658.5 307v1M659.5 308v1M660.5 309v1M661.5 310v1M662.5 311v1M663.5 312v1M664.5 313v1M665.5 314v2M666.5 316v2M667.5 318v2M668.5 320v1M669.5 321v2M670.5 323v2M671.5 325v2M672.5 327v2M673.5 329v2M674.5 331v2M675.5 333v3M676.5 336v2M677.5 338v3M678.5 341v2M679.5 343v2M680.5 345v3M681.5 348v3M682.5 351v3M683.5 354v3M684.5 357v3M685.5 360v2M686.5 362v2M687.5 364v2M688.5 366v2M689.5 368v2M690.5 370v2M691.5 372v2M692.5 374v1M697.5 377v1M702.5 380v1M707.5 383v1M708.5 384v1M709.5 385v2M710.5 387v1M742.5 391v1M743.5 392v1M744.5 393v2M745.5 395v1M746.5 396v1M747.5 397v1M750.5 399v1M751.5 400v1M754.5 402v1M765.5 408v1M768.5 410v1M769.5 411v1M770.5 412v1M773.5 414v1M774.5 415v1M777.5 417v1M825.5 427v1M826.5 428v1M827.5 429v2M828.5 431v1M829.5 432v1M830.5 433v2M831.5 435v1M832.5 436v1M833.5 437v1M834.5 438v1M835.5 439v1M836.5 440v1M837.5 441v1M838.5 442v1M839.5 443v1M840.5 444v1M841.5 445v1M842.5 446v1M853.5 452v1M856.5 454v1M857.5 455v1M860.5 457v1M863.5 459v1M864.5 460v1M982.5 460v1M983.5 459v1M984.5 458v1M985.5 457v1M986.5 456v1M987.5 455v1M988.5 454v1M991.5 452v1M994.5 450v1M997.5 448v1M1000.5 446v1M1001.5 445v1" fill="none" stroke="#808080" stroke-width="1" shape-rendering="crispEdges"/>
<path d="M168 507.5h9M155 508.5h13M177 508.5h4M145 509.5h10M181 509.5h4M135 510.5h10M185 510.5h4M125 511.5h10M189 511.5h6M115 512.5h10M195 512.5h6M92 513.5h23M201 513.5h6M65 514.5h27M207 514.5h6M47 515.5h18M213 515.5h6M29 516.5h18M219 516.5h6M18 517.5h11M225 517.5h6M12 518.5h6M231 518.5h13M6 519.5h6M244 519.5h20M688 519.5h6M701 519.5h26M770 519.5h23M828 519.5h53M3 520.5h3M264 520.5h28M327 520.5h21M683 520.5h5M694 520.5h7M727 520.5h43M793 520.5h35M881 520.5h16M292 521.5h35M348 521.5h7M678 521.5h5M897 521.5h11M355 522.5h14M673 522.5h5M908 522.5h8M369 523.5h15M603 523.5h19M665 523.5h8M916 523.5h13M384 524.5h8M594 524.5h9M622 524.5h8M655 524.5h10M929 524.5h18M392 525.5h8M584 525.5h10M630 525.5h25M947 525.5h18M997 525.5h17M1027 525.5h12M1051 525.5h21M400 526.5h8M533 526.5h19M575 526.5h9M965 526.5h32M1014 526.5h13M1039 526.5h12M408 527.5h10M526 527.5h7M552 527.5h3M563 527.5h12M418 528.5h10M520 528.5h6M555 528.5h8M428 529.5h14M503 529.5h17M442 530.5h16M478 530.5h25M458 531.5h20" fill="none" stroke="#000" stroke-width="1" shape-rendering="crispEdges"/>
<g shape-rendering="crispEdges" fill="#000"><rect x="152" y="253" width="9" height="2"/><rect x="161" y="252" width="8" height="2"/><rect x="169" y="251" width="8" height="2"/><rect x="177" y="250" width="8" height="2"/><rect x="185" y="249" width="8" height="2"/><rect x="193" y="248" width="7" height="2"/><rect x="200" y="247" width="8" height="2"/><rect x="208" y="246" width="8" height="2"/><rect x="216" y="245" width="8" height="2"/><rect x="224" y="244" width="8" height="2"/><rect x="232" y="243" width="8" height="2"/><rect x="240" y="242" width="7" height="2"/><rect x="247" y="241" width="8" height="2"/><rect x="255" y="240" width="8" height="2"/><rect x="263" y="239" width="8" height="2"/><rect x="271" y="238" width="8" height="2"/><rect x="279" y="237" width="7" height="2"/><rect x="286" y="236" width="8" height="2"/><rect x="294" y="235" width="8" height="2"/><rect x="302" y="234" width="8" height="2"/><rect x="310" y="233" width="8" height="2"/><rect x="318" y="232" width="7" height="2"/><rect x="325" y="231" width="8" height="2"/><rect x="333" y="230" width="8" height="2"/><rect x="341" y="229" width="8" height="2"/><rect x="349" y="228" width="8" height="2"/><rect x="357" y="227" width="8" height="2"/><rect x="365" y="226" width="7" height="2"/><rect x="372" y="225" width="8" height="2"/><rect x="380" y="224" width="8" height="2"/><rect x="388" y="223" width="8" height="2"/><rect x="396" y="222" width="8" height="2"/><rect x="404" y="221" width="7" height="2"/><rect x="411" y="220" width="8" height="2"/><rect x="419" y="219" width="8" height="2"/><rect x="427" y="218" width="8" height="2"/><rect x="435" y="217" width="8" height="2"/><rect x="443" y="216" width="7" height="2"/><rect x="450" y="215" width="8" height="2"/><rect x="458" y="214" width="8" height="2"/><rect x="466" y="213" width="8" height="2"/><rect x="474" y="212" width="8" height="2"/><rect x="482" y="211" width="8" height="2"/><rect x="490" y="210" width="7" height="2"/><rect x="497" y="209" width="8" height="2"/><rect x="505" y="208" width="8" height="2"/><rect x="513" y="207" width="8" height="2"/><rect x="521" y="206" width="8" height="2"/><rect x="529" y="205" width="7" height="2"/><rect x="536" y="204" width="8" height="2"/><rect x="544" y="203" width="8" height="2"/><rect x="552" y="202" width="8" height="2"/><rect x="560" y="201" width="8" height="2"/><rect x="568" y="200" width="7" height="2"/><rect x="575" y="199" width="8" height="2"/><rect x="583" y="198" width="8" height="2"/><rect x="591" y="197" width="1" height="2"/><rect x="182" y="299" width="22" height="2"/><rect x="204" y="300" width="21" height="2"/><rect x="225" y="301" width="21" height="2"/><rect x="246" y="302" width="20" height="2"/><rect x="266" y="303" width="21" height="2"/><rect x="287" y="304" width="21" height="2"/><rect x="308" y="305" width="21" height="2"/><rect x="329" y="306" width="20" height="2"/><rect x="349" y="307" width="21" height="2"/><rect x="370" y="308" width="21" height="2"/><rect x="391" y="309" width="21" height="2"/><rect x="412" y="310" width="20" height="2"/><rect x="432" y="311" width="21" height="2"/><rect x="453" y="312" width="21" height="2"/><rect x="474" y="313" width="21" height="2"/><rect x="495" y="314" width="20" height="2"/><rect x="515" y="315" width="21" height="2"/><rect x="536" y="316" width="21" height="2"/><rect x="557" y="317" width="20" height="2"/><rect x="577" y="318" width="21" height="2"/><rect x="598" y="319" width="21" height="2"/><rect x="619" y="320" width="21" height="2"/><rect x="640" y="321" width="20" height="2"/><rect x="660" y="322" width="22" height="2"/><rect x="152" y="253" width="2" height="20"/><rect x="182" y="276" width="2" height="25"/></g>
<text x="237" y="153.5" font-size="24" textLength="76.5" lengthAdjust="spacingAndGlyphs">ZS-091</text>
<text x="237" y="180.5" font-size="24">Continuation Nov contract</text>
<text x="645.3" y="273.8" font-size="15.4">Sell level</text>
<text x="5" y="486" font-size="11" textLength="63.5" lengthAdjust="spacingAndGlyphs">© GenesisFT</text>
<g font-size="11" class="b" lengthAdjust="spacingAndGlyphs"><text x="602" y="41" textLength="49" lengthAdjust="spacingAndGlyphs">Up Close</text><text x="660.8" y="41" textLength="66" lengthAdjust="spacingAndGlyphs">Down Close</text><text x="737" y="41" fill="#e8821e" textLength="95" lengthAdjust="spacingAndGlyphs">MovingAvg (C,18)</text><text x="841.8" y="41" fill="#808080" textLength="89.3" lengthAdjust="spacingAndGlyphs">MovingAvg (C,8)</text><text x="941.2" y="41" textLength="127" lengthAdjust="spacingAndGlyphs">10/11/1977 = 543^2 (-3^2)</text></g>
<g font-size="11" class="b" text-anchor="end"><text x="1069" y="500">ADX (14,T)</text><text x="1069" y="548">Avg True Range (30)</text></g>
<text x="1094" y="478" font-size="11">500^0</text>
<text x="1094" y="433" font-size="11">550^0</text>
<text x="1094" y="388" font-size="11">600^0</text>
<text x="1094" y="343" font-size="11">650^0</text>
<text x="1094" y="298" font-size="11">700^0</text>
<text x="1094" y="253" font-size="11">750^0</text>
<text x="1094" y="209" font-size="11">800^0</text>
<text x="1094" y="164" font-size="11">850^0</text>
<text x="1094" y="119" font-size="11">900^0</text>
<text x="1094" y="74" font-size="11">950^0</text>
<rect x="1089" y="442" width="29" height="4" fill="#e8821e"/>
<rect x="1089" y="428" width="29" height="14" fill="#000"/>
<g fill="#fff" shape-rendering="crispEdges"><rect x="1090" y="442" width="3" height="1"/><rect x="1096" y="442" width="3" height="1"/><rect x="1102" y="442" width="3" height="1"/><rect x="1115" y="442" width="2" height="1"/></g>
<text x="1089.5" y="439" font-size="10.5" fill="#fff" textLength="29" lengthAdjust="spacingAndGlyphs">543^2</text>
<text x="1095.5" y="536" font-size="9">0</text>
<rect x="1089" y="518" width="27" height="14" fill="#000"/><text x="1089" y="529" font-size="11" fill="#fff">23.21</text>
<rect x="1089" y="558" width="27" height="14" fill="#000"/><text x="1089" y="569" font-size="11" fill="#fff">13.27</text>
<path d="M1099 574H1119V570L1127 578L1119 586V582H1099Z" fill="#e03020" stroke="#a02010" stroke-width="0.5"/>
<text x="41" y="581" font-size="11" text-anchor="middle">Feb-77</text>
<text x="156" y="581" font-size="11" text-anchor="middle">Mar-77</text>
<text x="292.5" y="581" font-size="11" text-anchor="middle">Apr-77</text>
<text x="414.5" y="581" font-size="11" text-anchor="middle">May-77</text>
<text x="532.5" y="581" font-size="11" text-anchor="middle">Jun-77</text>
<text x="663" y="581" font-size="11" text-anchor="middle">Jul-77</text>
<text x="785.5" y="581" font-size="11" text-anchor="middle">Aug-77</text>
<text x="924" y="581" font-size="11" text-anchor="middle">Sep-77</text>
<text x="1049" y="581" font-size="11" text-anchor="middle">Oct-77</text>
<rect x="1053" y="31" width="1" height="12" fill="#000" shape-rendering="crispEdges"/>
<defs><linearGradient id="bg" x1="0" x2="1" y1="0" y2="0"><stop offset="0" stop-color="#c49030"/><stop offset=".38" stop-color="#f2d878"/><stop offset=".62" stop-color="#d2a23c"/><stop offset="1" stop-color="#a4741c"/></linearGradient></defs>
<g><circle cx="1066.200" cy="31" r="1.100" fill="#c89a34"/><path d="M1064 31.600Q1066.200 29.800 1068.500 31.600L1069.900 36.600Q1070.500 40 1073.200 42.200Q1066 45.200 1058.800 42.200Q1061.800 40 1062.500 36.600Z" fill="url(#bg)"/><path d="M1059.500 42.300Q1066 44.600 1072.500 42.300" stroke="#b88a2c" stroke-width=".8" fill="none"/><circle cx="1060.800" cy="40.800" r=".8" fill="#4a3008"/></g>
<g>
<path d="M3.200 24.500Q19 36 34.800 23.500L33 20.800Q19 30 5 21.800Z" fill="#d6bc36" stroke="#7a6610" stroke-width=".5"/>
<path d="M4.200 23.800Q19 32 33.800 22.800" fill="none" stroke="#f0e27a" stroke-width="1.200"/>
<path d="M3.500 25.300Q19 36.800 34.800 24.300" fill="none" stroke="#6a580c" stroke-width=".9" opacity=".75"/><path d="M4.500 25Q19 34.500 33.800 24" fill="none" stroke="#efe070" stroke-width="1" opacity=".8"/>
<path d="M16.500 12.500L10.500 22.500M21 9L28.600 22.500" stroke="#c4a828" stroke-width="1.500" fill="none"/>
<path d="M12.300 20H26.600" stroke="#d9c24a" stroke-width="1.100"/>
<path d="M24 11.500l2.500 2.500-2 1.500 3 2.500-1.500 1.500" stroke="#d9c24a" stroke-width="1.300" fill="none"/>
<rect x="4" y="11.800" width="11.500" height="4.800" rx="1" fill="#d2b630" stroke="#7a6610" stroke-width=".4"/>
<rect x="4.500" y="12.500" width="10.500" height="1.400" fill="#f2e688"/>
<rect x="4.500" y="15.300" width="11" height="1.300" fill="#846c0c"/>
<path d="M16.800 7.500h4l.4 14.500 2 5v7h-9v-7l2.200-5z" fill="#d8be38" stroke="#7a6610" stroke-width=".4"/>
<path d="M18 7.500h1.300l.4 26h-2.600z" fill="#f4e88c"/>
<path d="M20.800 7.500l.4 14.500 2 5v7h-1.300v-6.800l-1.700-5.200-.2-14.500z" fill="#8a7210" opacity=".85"/>
<path d="M15.700 7.500q-.2-1.800 1-3 .8-1.500 2.200-1.500 1.500 0 2 1.500 1.200 1.200 1 3z" fill="#d8be38" stroke="#7a6610" stroke-width=".4"/>
<path d="M16.500 6.500q.5-1.800 2.300-2.800" stroke="#f4e88c" stroke-width=".9" fill="none"/>
<path d="M20.500 5.800l2.500 1.800" stroke="#3a3004" stroke-width=".9"/>
<rect x="15.500" y="29" width="6.500" height="2.200" fill="#ece08a" opacity=".8"/>
<rect x="23.300" y="33" width="3" height="1.100" fill="#cdb02c"/><rect x="26" y="32.200" width="1" height="2.800" rx=".4" fill="#cdb02c"/>
</g>
</svg></body></html>
